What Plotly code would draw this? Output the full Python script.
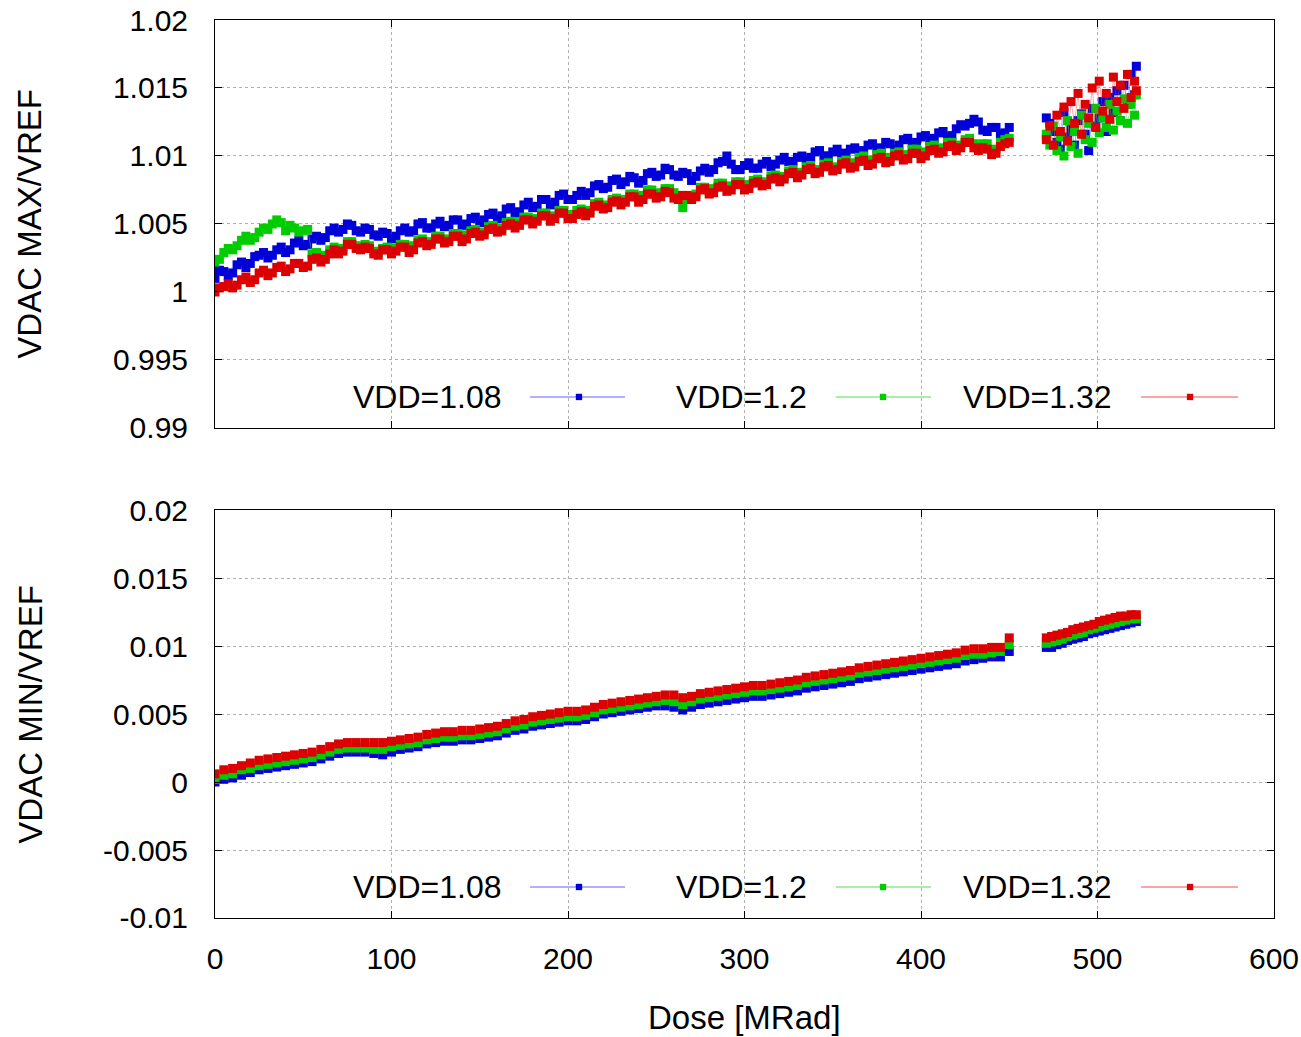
import plotly.graph_objects as go
from plotly.subplots import make_subplots

# ---------------- data ----------------
dose_a = list(range(0, 451, 5))                    # first run, MRad
dose_a_mid = [d + 2.5 for d in range(0, 450, 5)]   # intermediate readings, MRad

dose_top_b = [471, 473, 475, 477, 479, 481, 483, 485, 487, 489, 491, 493, 495, 497,
              499, 501, 503, 505, 507, 509, 511, 513, 515, 517, 519, 521, 522]
dose_bot_b = [471, 474, 477, 480, 483, 486, 489, 492, 495, 498, 501, 504, 507, 510,
              513, 516, 519, 522]

labels = ["VDD=1.08", "VDD=1.2", "VDD=1.32"]

# VDAC MAX / VREF  (readings at dose_a)
max_108_a = [1.0010, 1.0015, 1.0014, 1.0022, 1.0021, 1.0027, 1.0025, 1.0031, 1.0029, 1.0036,
             1.0034, 1.0039, 1.0038, 1.0045, 1.0044, 1.0050, 1.0045, 1.0047, 1.0042, 1.0044,
             1.0039, 1.0045, 1.0044, 1.0050, 1.0047, 1.0050, 1.0048, 1.0053, 1.0049, 1.0054,
             1.0051, 1.0057, 1.0054, 1.0061, 1.0058, 1.0064, 1.0062, 1.0068, 1.0064, 1.0071,
             1.0068, 1.0071, 1.0071, 1.0078, 1.0076, 1.0082, 1.0079, 1.0085, 1.0080, 1.0087,
             1.0085, 1.0091, 1.0086, 1.0088, 1.0082, 1.0089, 1.0088, 1.0095, 1.0100, 1.0090,
             1.0093, 1.0091, 1.0094, 1.0092, 1.0097, 1.0096, 1.0099, 1.0097, 1.0103, 1.0100,
             1.0103, 1.0102, 1.0105, 1.0103, 1.0108, 1.0105, 1.0110, 1.0105, 1.0112, 1.0109,
             1.0114, 1.0111, 1.0117, 1.0114, 1.0120, 1.0122, 1.0127, 1.0119, 1.0121, 1.0116,
             1.0121]
max_120_a = [1.0022, 1.0029, 1.0031, 1.0038, 1.0038, 1.0044, 1.0046, 1.0053, 1.0045, 1.0047,
             1.0045, 1.0028, 1.0025, 1.0031, 1.0030, 1.0037, 1.0034, 1.0035, 1.0030, 1.0032,
             1.0030, 1.0035, 1.0032, 1.0038, 1.0036, 1.0041, 1.0038, 1.0043, 1.0040, 1.0045,
             1.0043, 1.0048, 1.0046, 1.0051, 1.0049, 1.0055, 1.0052, 1.0058, 1.0055, 1.0060,
             1.0057, 1.0060, 1.0059, 1.0065, 1.0063, 1.0068, 1.0066, 1.0072, 1.0069, 1.0075,
             1.0072, 1.0076, 1.0073, 1.0062, 1.0070, 1.0077, 1.0074, 1.0080, 1.0077, 1.0081,
             1.0078, 1.0082, 1.0080, 1.0085, 1.0083, 1.0089, 1.0086, 1.0092, 1.0089, 1.0094,
             1.0091, 1.0096, 1.0094, 1.0099, 1.0096, 1.0101, 1.0098, 1.0102, 1.0100, 1.0105,
             1.0101, 1.0107, 1.0104, 1.0110, 1.0106, 1.0112, 1.0109, 1.0109, 1.0104, 1.0110,
             1.0113]
max_132_a = [1.0000, 1.0004, 1.0003, 1.0009, 1.0007, 1.0014, 1.0012, 1.0018, 1.0015, 1.0021,
             1.0018, 1.0024, 1.0022, 1.0028, 1.0028, 1.0035, 1.0032, 1.0033, 1.0028, 1.0031,
             1.0028, 1.0033, 1.0029, 1.0036, 1.0034, 1.0039, 1.0036, 1.0041, 1.0037, 1.0043,
             1.0041, 1.0046, 1.0044, 1.0049, 1.0047, 1.0053, 1.0050, 1.0056, 1.0052, 1.0058,
             1.0054, 1.0057, 1.0056, 1.0063, 1.0061, 1.0066, 1.0064, 1.0070, 1.0066, 1.0072,
             1.0069, 1.0074, 1.0069, 1.0071, 1.0068, 1.0075, 1.0072, 1.0077, 1.0074, 1.0079,
             1.0075, 1.0080, 1.0078, 1.0083, 1.0081, 1.0087, 1.0084, 1.0090, 1.0087, 1.0092,
             1.0089, 1.0094, 1.0091, 1.0096, 1.0093, 1.0098, 1.0095, 1.0100, 1.0097, 1.0102,
             1.0098, 1.0104, 1.0102, 1.0107, 1.0104, 1.0110, 1.0106, 1.0106, 1.0101, 1.0107,
             1.0110]

# VDAC MAX / VREF  (readings at dose_a_mid)
max_108_m = [1.0016, 1.0012, 1.0020, 1.0018, 1.0026, 1.0029, 1.0027, 1.0033, 1.0031, 1.0038,
             1.0035, 1.0041, 1.0040, 1.0047, 1.0046, 1.0049, 1.0044, 1.0046, 1.0041, 1.0043,
             1.0041, 1.0047, 1.0045, 1.0051, 1.0047, 1.0052, 1.0049, 1.0053, 1.0050, 1.0055,
             1.0053, 1.0058, 1.0056, 1.0062, 1.0059, 1.0066, 1.0063, 1.0068, 1.0066, 1.0072,
             1.0068, 1.0074, 1.0073, 1.0079, 1.0077, 1.0083, 1.0081, 1.0084, 1.0082, 1.0088,
             1.0086, 1.0090, 1.0085, 1.0087, 1.0085, 1.0091, 1.0090, 1.0096, 1.0094, 1.0090,
             1.0095, 1.0091, 1.0096, 1.0094, 1.0099, 1.0096, 1.0100, 1.0099, 1.0104, 1.0100,
             1.0105, 1.0102, 1.0106, 1.0104, 1.0109, 1.0106, 1.0109, 1.0108, 1.0113, 1.0110,
             1.0115, 1.0113, 1.0118, 1.0115, 1.0123, 1.0124, 1.0125, 1.0118, 1.0121, 1.0117]
max_120_m = [1.0024, 1.0032, 1.0034, 1.0041, 1.0040, 1.0047, 1.0050, 1.0051, 1.0049, 1.0044,
             1.0046, 1.0029, 1.0027, 1.0033, 1.0032, 1.0037, 1.0033, 1.0034, 1.0029, 1.0033,
             1.0032, 1.0035, 1.0034, 1.0039, 1.0037, 1.0041, 1.0039, 1.0043, 1.0042, 1.0046,
             1.0044, 1.0049, 1.0047, 1.0052, 1.0051, 1.0055, 1.0054, 1.0058, 1.0056, 1.0060,
             1.0057, 1.0061, 1.0060, 1.0066, 1.0064, 1.0069, 1.0068, 1.0072, 1.0071, 1.0075,
             1.0073, 1.0076, 1.0071, 1.0068, 1.0072, 1.0077, 1.0076, 1.0080, 1.0078, 1.0081,
             1.0079, 1.0083, 1.0081, 1.0086, 1.0085, 1.0090, 1.0088, 1.0093, 1.0090, 1.0095,
             1.0092, 1.0097, 1.0095, 1.0100, 1.0097, 1.0102, 1.0099, 1.0103, 1.0101, 1.0105,
             1.0103, 1.0108, 1.0106, 1.0110, 1.0108, 1.0113, 1.0107, 1.0109, 1.0105, 1.0112]
max_132_m = [1.0003, 1.0006, 1.0005, 1.0011, 1.0009, 1.0016, 1.0014, 1.0019, 1.0017, 1.0021,
             1.0019, 1.0025, 1.0024, 1.0031, 1.0030, 1.0035, 1.0031, 1.0032, 1.0027, 1.0031,
             1.0030, 1.0033, 1.0031, 1.0037, 1.0035, 1.0039, 1.0037, 1.0041, 1.0039, 1.0044,
             1.0042, 1.0047, 1.0045, 1.0050, 1.0049, 1.0053, 1.0052, 1.0056, 1.0054, 1.0058,
             1.0054, 1.0059, 1.0058, 1.0064, 1.0062, 1.0067, 1.0066, 1.0070, 1.0068, 1.0072,
             1.0070, 1.0073, 1.0068, 1.0071, 1.0070, 1.0076, 1.0073, 1.0078, 1.0075, 1.0079,
             1.0076, 1.0081, 1.0079, 1.0084, 1.0083, 1.0088, 1.0086, 1.0091, 1.0088, 1.0093,
             1.0090, 1.0095, 1.0092, 1.0097, 1.0094, 1.0099, 1.0096, 1.0101, 1.0098, 1.0102,
             1.0100, 1.0105, 1.0103, 1.0108, 1.0106, 1.0110, 1.0104, 1.0105, 1.0102, 1.0109]

# VDAC MAX / VREF  (second run)
max_108_b = [1.0128, 1.0124, 1.0118, 1.0110, 1.0105, 1.0132, 1.0114, 1.0120, 1.0108, 1.0126,
             1.0131, 1.0116, 1.0104, 1.0135, 1.0122, 1.0128, 1.0140, 1.0118, 1.0143, 1.0132,
             1.0148, 1.0126, 1.0152, 1.0138, 1.0160, 1.0145, 1.0166]
max_120_b = [1.0116, 1.0108, 1.0122, 1.0104, 1.0114, 1.0100, 1.0126, 1.0107, 1.0118, 1.0102,
             1.0130, 1.0112, 1.0124, 1.0110, 1.0135, 1.0117, 1.0128, 1.0121, 1.0138, 1.0119,
             1.0133, 1.0126, 1.0142, 1.0124, 1.0138, 1.0130, 1.0145]
max_132_b = [1.0112, 1.0122, 1.0108, 1.0130, 1.0118, 1.0136, 1.0111, 1.0140, 1.0124, 1.0146,
             1.0116, 1.0138, 1.0128, 1.0150, 1.0121, 1.0155, 1.0133, 1.0146, 1.0127, 1.0158,
             1.0140, 1.0152, 1.0135, 1.0160, 1.0143, 1.0155, 1.0148]

# VDAC MIN / VREF
min_108_a = [0.0000, 0.0002, 0.0003, 0.0005, 0.0007, 0.0009, 0.0010, 0.0011, 0.0012, 0.0013,
             0.0014, 0.0015, 0.0017, 0.0019, 0.0021, 0.0022, 0.0022, 0.0022, 0.0021, 0.0020,
             0.0022, 0.0024, 0.0025, 0.0026, 0.0028, 0.0029, 0.0030, 0.0030, 0.0031, 0.0031,
             0.0032, 0.0033, 0.0034, 0.0036, 0.0038, 0.0039, 0.0041, 0.0042, 0.0043, 0.0044,
             0.0045, 0.0045, 0.0046, 0.0048, 0.0050, 0.0051, 0.0052, 0.0053, 0.0054, 0.0055,
             0.0056, 0.0056, 0.0055, 0.0053, 0.0055, 0.0057, 0.0058, 0.0059, 0.0060, 0.0061,
             0.0062, 0.0063, 0.0063, 0.0064, 0.0065, 0.0066, 0.0067, 0.0069, 0.0070, 0.0071,
             0.0072, 0.0073, 0.0074, 0.0076, 0.0077, 0.0078, 0.0079, 0.0080, 0.0081, 0.0082,
             0.0083, 0.0084, 0.0085, 0.0086, 0.0087, 0.0089, 0.0090, 0.0091, 0.0092, 0.0092,
             0.0096]
min_120_a = [0.0002, 0.0005, 0.0006, 0.0009, 0.0010, 0.0012, 0.0013, 0.0014, 0.0015, 0.0016,
             0.0017, 0.0018, 0.0020, 0.0022, 0.0024, 0.0025, 0.0025, 0.0025, 0.0024, 0.0024,
             0.0026, 0.0027, 0.0028, 0.0029, 0.0031, 0.0032, 0.0033, 0.0033, 0.0034, 0.0034,
             0.0035, 0.0036, 0.0037, 0.0039, 0.0041, 0.0042, 0.0044, 0.0045, 0.0046, 0.0047,
             0.0048, 0.0048, 0.0049, 0.0051, 0.0053, 0.0054, 0.0055, 0.0056, 0.0057, 0.0058,
             0.0059, 0.0060, 0.0059, 0.0057, 0.0059, 0.0061, 0.0062, 0.0063, 0.0064, 0.0065,
             0.0066, 0.0067, 0.0067, 0.0068, 0.0069, 0.0070, 0.0071, 0.0073, 0.0074, 0.0075,
             0.0076, 0.0077, 0.0078, 0.0080, 0.0081, 0.0082, 0.0083, 0.0084, 0.0085, 0.0086,
             0.0087, 0.0088, 0.0089, 0.0090, 0.0091, 0.0093, 0.0094, 0.0094, 0.0095, 0.0096,
             0.0101]
min_132_a = [0.0006, 0.0009, 0.0010, 0.0012, 0.0014, 0.0016, 0.0017, 0.0018, 0.0019, 0.0020,
             0.0021, 0.0022, 0.0024, 0.0026, 0.0028, 0.0029, 0.0029, 0.0029, 0.0029, 0.0029,
             0.0030, 0.0031, 0.0032, 0.0033, 0.0035, 0.0036, 0.0037, 0.0037, 0.0038, 0.0038,
             0.0039, 0.0040, 0.0041, 0.0043, 0.0045, 0.0046, 0.0048, 0.0049, 0.0050, 0.0051,
             0.0052, 0.0052, 0.0053, 0.0055, 0.0057, 0.0058, 0.0059, 0.0060, 0.0061, 0.0062,
             0.0063, 0.0064, 0.0064, 0.0062, 0.0063, 0.0065, 0.0066, 0.0067, 0.0068, 0.0069,
             0.0070, 0.0071, 0.0071, 0.0072, 0.0073, 0.0074, 0.0075, 0.0077, 0.0078, 0.0079,
             0.0080, 0.0081, 0.0082, 0.0084, 0.0085, 0.0086, 0.0087, 0.0088, 0.0089, 0.0090,
             0.0091, 0.0092, 0.0093, 0.0094, 0.0095, 0.0097, 0.0098, 0.0098, 0.0099, 0.0099,
             0.0106]

min_108_b = [0.0099, 0.0099, 0.0101, 0.0102, 0.0104, 0.0105, 0.0106, 0.0107, 0.0109, 0.0110,
             0.0111, 0.0112, 0.0113, 0.0114, 0.0115, 0.0116, 0.0117, 0.0118]
min_120_b = [0.0102, 0.0103, 0.0104, 0.0105, 0.0107, 0.0108, 0.0109, 0.0110, 0.0112, 0.0113,
             0.0114, 0.0115, 0.0116, 0.0117, 0.0118, 0.0119, 0.0120, 0.0120]
min_132_b = [0.0106, 0.0107, 0.0108, 0.0109, 0.0110, 0.0112, 0.0113, 0.0114, 0.0115, 0.0116,
             0.0118, 0.0119, 0.0120, 0.0121, 0.0122, 0.0122, 0.0123, 0.0123]

x_ticks = [0, 100, 200, 300, 400, 500, 600]
top_ticks = [0.99, 0.995, 1.0, 1.005, 1.01, 1.015, 1.02]
top_ticktext = ["0.99", "0.995", "1", "1.005", "1.01", "1.015", "1.02"]
bot_ticks = [-0.01, -0.005, 0.0, 0.005, 0.01, 0.015, 0.02]
bot_ticktext = ["-0.01", "-0.005", "0", "0.005", "0.01", "0.015", "0.02"]

# ---------------- styling ----------------
FONT = "Liberation Sans, Arial, Helvetica, sans-serif"
FS_TICK = 30
FS_TITLE = 33
FS_KEY = 32
marker_cols = ["#0000d8", "#00cc00", "#dd0000"]
line_cols = ["rgba(80,80,255,0.45)", "rgba(60,220,60,0.45)", "rgba(240,60,60,0.45)"]
MS_TOP = 9
MS_BOT = 9

fig = make_subplots(rows=2, cols=1, shared_xaxes=False, vertical_spacing=0.0914)

top_a = [max_108_a, max_120_a, max_132_a]
top_m = [max_108_m, max_120_m, max_132_m]
top_b = [max_108_b, max_120_b, max_132_b]
bot_a = [min_108_a, min_120_a, min_132_a]
bot_b = [min_108_b, min_120_b, min_132_b]

for i in range(3):
    pts = sorted(zip(dose_a + dose_a_mid, top_a[i] + top_m[i]))
    xs = [p[0] for p in pts]
    ys = [p[1] for p in pts]
    fig.add_trace(go.Scatter(
        x=xs + [None] + dose_top_b, y=ys + [None] + top_b[i],
        mode="lines+markers", name=labels[i], showlegend=False,
        line=dict(color=line_cols[i], width=1),
        marker=dict(symbol="square", size=MS_TOP, color=marker_cols[i], line=dict(width=0))),
        row=1, col=1)
for i in range(3):
    fig.add_trace(go.Scatter(
        x=dose_a + [None] + dose_bot_b, y=bot_a[i] + [None] + bot_b[i],
        mode="lines+markers", name=labels[i], showlegend=False,
        line=dict(color=line_cols[i], width=1),
        marker=dict(symbol="square", size=MS_BOT, color=marker_cols[i], line=dict(width=0))),
        row=2, col=1)

axis_common = dict(showline=True, linecolor="black", linewidth=1, mirror="ticks",
                   ticks="inside", ticklen=7, tickcolor="black", tickwidth=1,
                   showgrid=True, gridcolor="#b0b0b0", griddash="dot", gridwidth=1,
                   zeroline=False, automargin=False,
                   tickfont=dict(family=FONT, size=FS_TICK, color="black"))

fig.update_xaxes(range=[0, 600], tickvals=x_ticks, **axis_common)
fig.update_xaxes(showticklabels=False, row=1, col=1)
fig.update_xaxes(ticklabelstandoff=14, row=2, col=1)
fig.update_yaxes(range=[0.99, 1.02], tickvals=top_ticks, ticktext=top_ticktext,
                 ticklabelstandoff=20, row=1, col=1, **axis_common)
fig.update_yaxes(range=[-0.01, 0.02], tickvals=bot_ticks, ticktext=bot_ticktext,
                 ticklabelstandoff=20, row=2, col=1, **axis_common)

annotations = []
# axis titles
annotations.append(dict(text="VDAC MAX/VREF", xref="paper", yref="y domain", x=-0.175, y=0.5,
                        textangle=-90, showarrow=False, xanchor="center", yanchor="middle",
                        font=dict(family=FONT, size=FS_TITLE, color="black")))
annotations.append(dict(text="VDAC MIN/VREF", xref="paper", yref="y2 domain", x=-0.175, y=0.5,
                        textangle=-90, showarrow=False, xanchor="center", yanchor="middle",
                        font=dict(family=FONT, size=FS_TITLE, color="black")))
annotations.append(dict(text="Dose [MRad]", xref="paper", yref="paper", x=0.5, y=-0.111,
                        showarrow=False, xanchor="center", yanchor="middle",
                        font=dict(family=FONT, size=FS_TITLE, color="black")))

# gnuplot-style keys inside each panel (text then sample)
key_text_x = [0.2729, 0.5609, 0.8489]
key_line = [(0.2975, 0.3872), (0.5864, 0.6761), (0.8744, 0.9660)]
key_mark = [0.3437, 0.6308, 0.9207]
key_y = 0.076
shapes = []
for yd in ["y domain", "y2 domain"]:
    xd = "x domain" if yd == "y domain" else "x2 domain"
    for i in range(3):
        annotations.append(dict(text=labels[i], xref=xd, yref=yd, x=key_text_x[i], y=key_y,
                                showarrow=False, xanchor="right", yanchor="middle",
                                font=dict(family=FONT, size=FS_KEY, color="black")))
        shapes.append(dict(type="line", xref=xd, yref=yd, x0=key_line[i][0], x1=key_line[i][1],
                           y0=key_y, y1=key_y, line=dict(color=line_cols[i], width=2)))
        shapes.append(dict(type="rect", xref=xd, yref=yd,
                           x0=key_mark[i] - 0.0030, x1=key_mark[i] + 0.0030,
                           y0=key_y - 0.0078, y1=key_y + 0.0078,
                           fillcolor=marker_cols[i], line=dict(width=0)))

fig.update_layout(width=1301, height=1037,
                  margin=dict(l=215, r=27, t=20, b=119, autoexpand=False),
                  paper_bgcolor="white", plot_bgcolor="white",
                  annotations=annotations, shapes=shapes, showlegend=False)

fig.write_html("out.html")
